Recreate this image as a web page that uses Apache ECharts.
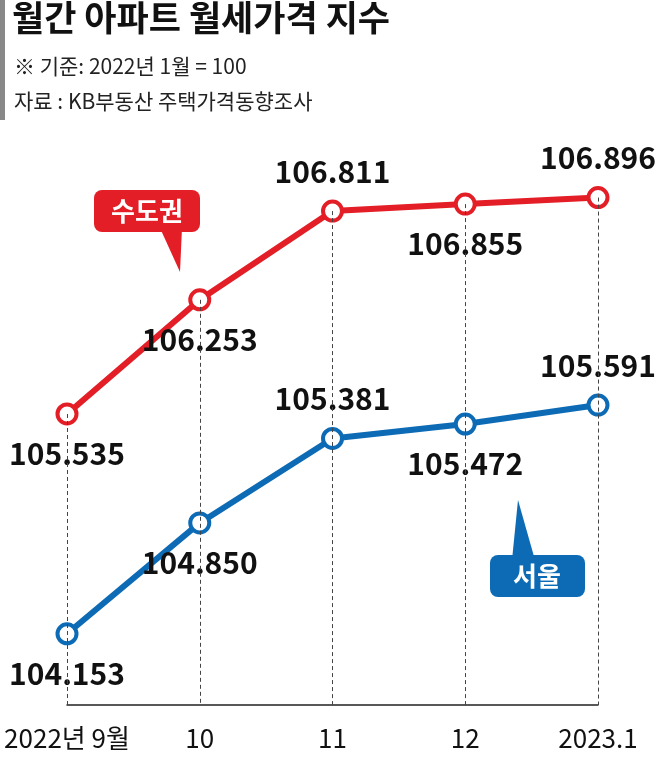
<!DOCTYPE html>
<html><head><meta charset="utf-8">
<script src="https://cdn.jsdelivr.net/npm/echarts@6/dist/echarts.min.js"></script>
<style>body{margin:0}#c{width:667px;height:765px}</style>
</head><body><div id="c"></div>
<script>
let months = ['2022년 9월', '10', '11', '12', '2023.1'];
let capital = [105.535, 106.253, 106.811, 106.855, 106.896];
let seoul = [104.153, 104.850, 105.381, 105.472, 105.591];
let capitalPos = ['bottom', 'bottom', 'top', 'bottom', 'top'];
let seoulPos = ['bottom', 'bottom', 'top', 'bottom', 'top'];

let chart = echarts.init(document.getElementById('c'));
let font = '"Liberation Sans Narrow", "Noto Sans CJK KR", sans-serif';
let kfont = '"Noto Sans CJK KR"';

function points(vals, pos) {
	return vals.map(function(v, i) {
		return {value: v, label: {position: pos[i]}};
	});
}

option = {
	animation: false,
	backgroundColor: '#fff',
	grid: {left: 67, right: 69, top: 140, bottom: 60},
	xAxis: {
		type: 'category', boundaryGap: false, data: months,
		axisLine: {lineStyle: {color: '#222', width: 1.5}},
		axisTick: {show: false},
		axisLabel: {color: '#111', fontSize: 26, margin: 20, interval: 0, fontFamily: font}
	},
	yAxis: {type: 'value', min: 103.705, max: 107.258, show: false, splitLine: {show: false}},
	series: [{
		type: 'line', data: points(capital, capitalPos),
		symbol: 'circle', symbolSize: 19,
		lineStyle: {color: '#e31e26', width: 6},
		itemStyle: {color: '#fff', borderColor: '#e31e26', borderWidth: 4},
		label: {show: true, fontSize: 30, fontWeight: 'bold', color: '#111', distance: 13, fontFamily: font,
			formatter: function(p) { return p.value.toFixed(3); }},
		markLine: {
			silent: true, symbol: 'none', label: {show: false},
			lineStyle: {color: '#444', type: [4, 3], width: 1},
			data: capital.map(function(v, i) {
				return [{xAxis: i, yAxis: v}, {xAxis: i, yAxis: 103.705}];
			})
		},
		z: 3
	}, {
		type: 'line', data: points(seoul, seoulPos),
		symbol: 'circle', symbolSize: 19,
		lineStyle: {color: '#0d6bb5', width: 6},
		itemStyle: {color: '#fff', borderColor: '#0d6bb5', borderWidth: 4},
		label: {show: true, fontSize: 30, fontWeight: 'bold', color: '#111', distance: 13, fontFamily: font,
			formatter: function(p) { return p.value.toFixed(3); }},
		z: 4
	}],
	graphic: [
		{type: 'rect', shape: {x: 0, y: 0, width: 5, height: 120}, style: {fill: '#888'}},
		{type: 'text', left: 12, top: 0, style: {text: '월간 아파트 월세가격 지수', fontSize: 35, fontWeight: 'bold', fill: '#111', fontFamily: kfont}},
		{type: 'text', left: 14, top: 56, style: {text: '※ 기준: 2022년 1월 = 100', fontSize: 21, fill: '#222', fontFamily: kfont}},
		{type: 'text', left: 14, top: 91, style: {text: '자료 : KB부동산 주택가격동향조사', fontSize: 21, fill: '#222', fontFamily: kfont}},
		{type: 'polygon', shape: {points: [[160, 228], [182, 228], [180, 272]]}, style: {fill: '#e31e26'}},
		{type: 'rect', shape: {x: 94, y: 190, width: 106, height: 42, r: 8}, style: {fill: '#e31e26'}},
		{type: 'text', x: 147, y: 211, style: {text: '수도권', fontSize: 26, fontWeight: 'bold', fill: '#fff', align: 'center', verticalAlign: 'middle', fontFamily: kfont}},
		{type: 'polygon', shape: {points: [[512, 560], [535, 560], [518, 500]]}, style: {fill: '#0d6bb5'}},
		{type: 'rect', shape: {x: 490, y: 555, width: 95, height: 42, r: 8}, style: {fill: '#0d6bb5'}},
		{type: 'text', x: 537, y: 576, style: {text: '서울', fontSize: 26, fontWeight: 'bold', fill: '#fff', align: 'center', verticalAlign: 'middle', fontFamily: kfont}}
	]
};
chart.setOption(option);
</script></body></html>
